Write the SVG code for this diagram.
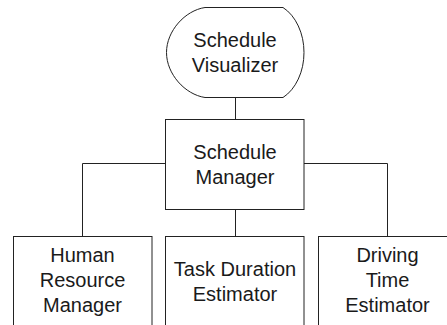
<svg xmlns="http://www.w3.org/2000/svg" width="447" height="325" viewBox="0 0 447 325">
<style>
.shape{fill:#ffffff;stroke:#222222;stroke-width:1}
.conn{fill:none;stroke:#222222;stroke-width:1}
text{font-family:"Liberation Sans",Arial,sans-serif;font-size:20px;fill:#1a1a1a;text-anchor:middle}
</style>
<rect width="447" height="325" fill="#ffffff"/>
<g id="connectors">
<path class="conn" d="M235.5 97.5 V119.5"/>
<path class="conn" d="M235.5 209.5 V236.5"/>
<path class="conn" d="M166 163.5 H82.5 V236.5"/>
<path class="conn" d="M304 163.5 H387.5 V236.5"/>
</g>
<g id="schedule-visualizer">
<path class="shape" d="M205 7.5 H283 A37.2 50 0 0 1 283 97.5 H205 C185 94.5 166.5 74 166.5 52.5 C166.5 31 185 10.5 205 7.5 Z"/>
<text x="235" y="47">Schedule</text>
<text x="235" y="72">Visualizer</text>
</g>
<g id="schedule-manager">
<rect class="shape" x="165.5" y="119.5" width="138.5" height="90"/>
<text x="235" y="158.5">Schedule</text>
<text x="235" y="183.5">Manager</text>
</g>
<g id="human-resource-manager">
<rect class="shape" x="13.5" y="236.5" width="138.5" height="90"/>
<text x="82.5" y="261.5">Human</text>
<text x="82.5" y="286.5">Resource</text>
<text x="82.5" y="311.5">Manager</text>
</g>
<g id="task-duration-estimator">
<rect class="shape" x="165.5" y="236.5" width="138.5" height="90"/>
<text x="235" y="275.5">Task Duration</text>
<text x="235" y="300.5">Estimator</text>
</g>
<g id="driving-time-estimator">
<rect class="shape" x="318.5" y="236.5" width="138.5" height="90"/>
<text x="387.5" y="261.5">Driving</text>
<text x="387.5" y="286.5">Time</text>
<text x="387.5" y="311.5">Estimator</text>
</g>
</svg>
